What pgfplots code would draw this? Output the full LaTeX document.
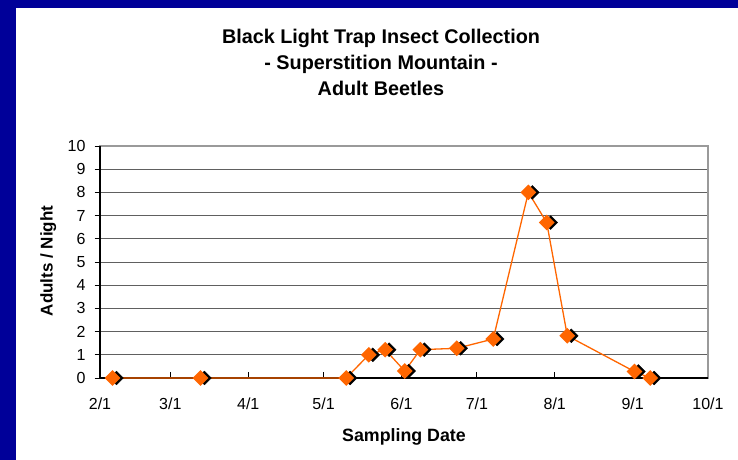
\documentclass[border=0pt]{standalone}
\usepackage{fontspec}
\setmainfont{Liberation Sans}
\usepackage{pgfplots}
\pgfplotsset{compat=1.18}
\definecolor{navy}{HTML}{000099}
\definecolor{orng}{HTML}{FF6600}
\definecolor{gridc}{HTML}{606060}
\definecolor{boxc}{HTML}{9A9A9A}
\begin{document}
\begin{tikzpicture}[x=1bp,y=1bp]
\useasboundingbox (0,0) rectangle (738,460);
\fill[white] (0,0) rectangle (738,460);
\fill[navy] (0,0) rectangle (16,460);
\fill[navy] (0,452) rectangle (738,460);
\node[anchor=base, inner sep=0pt, font=\bfseries\fontsize{19.8bp}{22bp}\selectfont] at (381,416) {Black Light Trap Insect Collection};
\node[anchor=base, inner sep=0pt, font=\bfseries\fontsize{19.8bp}{22bp}\selectfont] at (381,390) {- Superstition Mountain -};
\node[anchor=base, inner sep=0pt, font=\bfseries\fontsize{19.8bp}{22bp}\selectfont] at (381,364) {Adult Beetles};
\node[anchor=base, inner sep=0pt, font=\bfseries\fontsize{17.8bp}{22bp}\selectfont] at (404,18) {Sampling Date};
\node[anchor=base, inner sep=0pt, rotate=90, font=\bfseries\fontsize{17bp}{22bp}\selectfont] at (52.7,199) {Adults / Night};
\begin{axis}[
  at={(100bp,82bp)}, anchor=south west,
  width=608bp, height=232bp, scale only axis,
  xmin=32, xmax=274, ymin=0, ymax=10,
  xtick={32,60,91,121,152,182,213,244,274},
  xticklabels={2/1,3/1,4/1,5/1,6/1,7/1,8/1,9/1,10/1},
  ytick={0,1,...,10},
  xtick pos=bottom, ytick pos=left,
  major tick length=5.5bp,
  tick style={black, line width=0.8bp},
  ytick style={xshift=-5.5bp},
  /pgf/number format/assume math mode=true,
  ticklabel style={font=\fontsize{16bp}{18bp}\selectfont},
  yticklabel style={xshift=-11bp},
  xticklabel style={yshift=-16bp},
  ymajorgrids,
  major grid style={gridc, line width=0.9bp},
  axis line style={boxc, line width=1.4bp},
  clip=false,
]
\draw[black, line width=1.1bp] (rel axis cs:0,1) -- (rel axis cs:0,0) -- (rel axis cs:1,0);
\addplot[draw=none, mark=square*, mark size=4.9bp,
  mark options={black, fill=black, rotate=45, xshift=2.8bp, yshift=-2.8bp}]
  coordinates {(37,0) (72,0) (130,0) (139,1.0) (145.5,1.22) (153.3,0.3) (159.5,1.22) (174,1.28) (188.5,1.68) (202.5,8.0) (209.8,6.7) (218,1.82) (244.7,0.28) (251,0)};
\addplot[orng, line width=1.3bp, mark=square*, mark size=4.9bp,
  mark options={orng, fill=orng, rotate=45}]
  coordinates {(37,0) (72,0) (130,0) (139,1.0) (145.5,1.22) (153.3,0.3) (159.5,1.22) (174,1.28) (188.5,1.68) (202.5,8.0) (209.8,6.7) (218,1.82) (244.7,0.28) (251,0)};
\end{axis}
\end{tikzpicture}
\end{document}
